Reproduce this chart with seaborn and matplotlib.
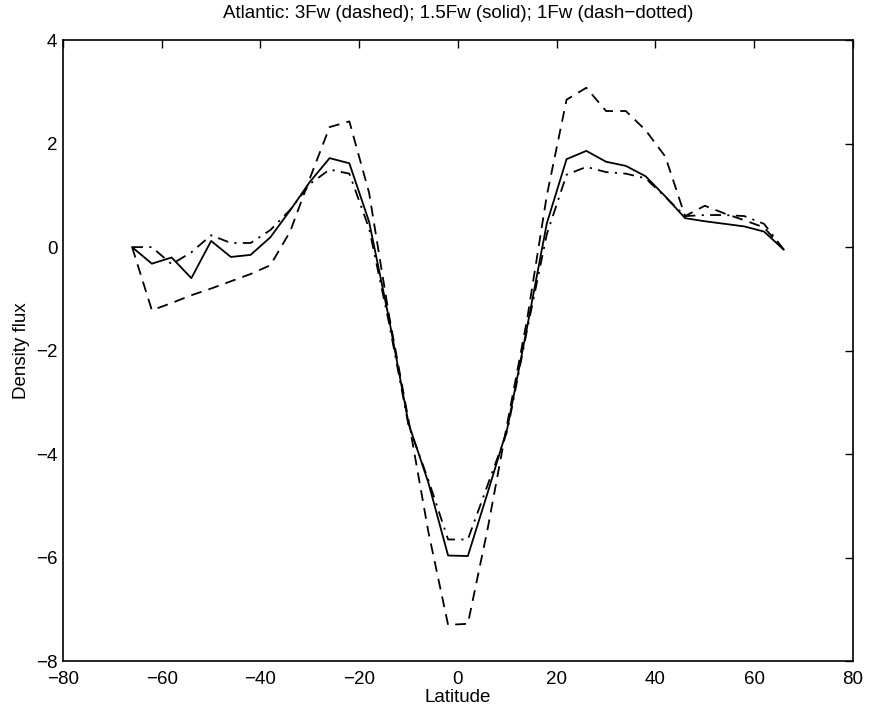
import numpy as np
import pandas as pd
import matplotlib
matplotlib.use("Agg")
import matplotlib.pyplot as plt
import seaborn as sns

latitude = list(range(-66, 67, 4))

flux_3fw = [0.0, -1.22, -1.08, -0.93, -0.80, -0.66, -0.52, -0.35, 0.30, 1.33,
            2.32, 2.43, 1.05, -1.30, -3.35, -5.50, -7.30, -7.28, -5.45, -3.40,
            -1.40, 1.00, 2.85, 3.08, 2.63, 2.63, 2.26, 1.75, 0.60, 0.80,
            0.65, 0.52, 0.38, -0.05]

flux_15fw = [0.0, -0.32, -0.20, -0.60, 0.12, -0.19, -0.15, 0.19, 0.71, 1.26,
             1.72, 1.62, 0.49, -1.37, -3.41, -4.55, -5.96, -5.97, -4.75, -3.50,
             -1.55, 0.46, 1.70, 1.86, 1.65, 1.57, 1.37, 0.98, 0.56, 0.50,
             0.45, 0.40, 0.30, -0.05]

flux_1fw = [0.0, 0.0, -0.33, -0.10, 0.23, 0.08, 0.08, 0.33, 0.72, 1.22,
            1.50, 1.42, 0.36, -1.45, -3.45, -4.50, -5.65, -5.65, -4.60, -3.55,
            -1.60, 0.25, 1.40, 1.55, 1.45, 1.42, 1.33, 0.97, 0.60, 0.62,
            0.62, 0.60, 0.45, -0.05]

x_ticks = [-80, -60, -40, -20, 0, 20, 40, 60, 80]
y_ticks = [-8, -6, -4, -2, 0, 2, 4]

sns.set_style("white")
plt.rcParams['font.family'] = ['Liberation Sans', 'DejaVu Sans']
plt.rcParams['text.color'] = 'black'
plt.rcParams['axes.labelcolor'] = 'black'

fig = plt.figure(figsize=(8.69, 7.17), dpi=100)
ax = fig.add_axes([0.0725, 0.078, 0.909, 0.866])

df = pd.DataFrame({"Latitude": latitude, "f3": flux_3fw, "f15": flux_15fw, "f1": flux_1fw})

sns.lineplot(data=df, x="Latitude", y="f3", ax=ax, color="black", lw=1.3)
ax.lines[-1].set_dashes((6, 4))
sns.lineplot(data=df, x="Latitude", y="f15", ax=ax, color="black", lw=1.3)
sns.lineplot(data=df, x="Latitude", y="f1", ax=ax, color="black", lw=1.3)
ax.lines[-1].set_dashes((6, 3.5, 1.2, 3.5))

ax.set_xlim(-80, 80)
ax.set_ylim(-8, 4)
ax.set_xticks(x_ticks)
ax.set_yticks(y_ticks)
ax.set_xticklabels([str(v).replace('-', '\u2212') for v in x_ticks])
ax.set_yticklabels([str(v).replace('-', '\u2212') for v in y_ticks])
ax.tick_params(direction="in", length=6, width=1, top=True, right=True,
               labelsize=13.5, colors="black", labelcolor="black")
ax.tick_params(axis="x", pad=7)
ax.tick_params(axis="y", pad=4)
for s in ax.spines.values():
    s.set_color("black")
    s.set_linewidth(1.2)

ax.set_xlabel("Latitude", fontsize=13.5, labelpad=1, color="black")
ax.set_ylabel("Density flux", fontsize=13.5, labelpad=4, color="black")
ax.set_title("Atlantic: 3Fw (dashed); 1.5Fw (solid); 1Fw (dash\u2212dotted)",
             fontsize=13.5, pad=16, color="black")

fig.savefig("out.png", dpi=100)
